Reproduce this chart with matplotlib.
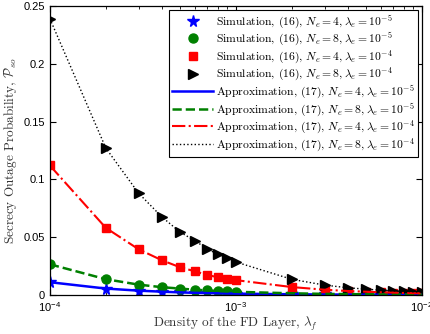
import numpy as np
import matplotlib
matplotlib.use("Agg")
import matplotlib.pyplot as plt

plt.rcParams['mathtext.fontset'] = 'cm'
plt.rcParams['font.family'] = ['Liberation Sans', 'DejaVu Sans']

# density of the FD layer
lam_f = [1e-4, 2e-4, 3e-4, 4e-4, 5e-4, 6e-4, 7e-4, 8e-4, 9e-4, 1e-3,
         2e-3, 3e-3, 4e-3, 5e-3, 6e-3, 7e-3, 8e-3, 9e-3, 1e-2]

# secrecy outage probability per setting
p_n4_e5 = [0.0110, 0.0055, 0.0037, 0.0028, 0.0022, 0.0018, 0.0016, 0.0014, 0.0012, 0.0011,
           0.00055, 0.00037, 0.00028, 0.00022, 0.00018, 0.00016, 0.00014, 0.00012, 0.00011]
p_n8_e5 = [0.0265, 0.0136, 0.0089, 0.0067, 0.0055, 0.0045, 0.0039, 0.0034, 0.0030, 0.0027,
           0.0014, 0.0009, 0.0007, 0.00055, 0.00045, 0.0004, 0.00035, 0.0003, 0.00028]
p_n4_e4 = [0.112, 0.058, 0.0395, 0.030, 0.024, 0.0205, 0.0173, 0.0153, 0.0141, 0.0128,
           0.0068, 0.0045, 0.0034, 0.0028, 0.0023, 0.0020, 0.0017, 0.0015, 0.0014]
p_n8_e4 = [0.239, 0.127, 0.088, 0.0675, 0.0545, 0.047, 0.040, 0.035, 0.032, 0.0285,
           0.0135, 0.0085, 0.0062, 0.0050, 0.0041, 0.0035, 0.0031, 0.0027, 0.0025]

sim_labels = [r'Simulation, (16), $N_e=4, \lambda_e=10^{-5}$',
              r'Simulation, (16), $N_e=8, \lambda_e=10^{-5}$',
              r'Simulation, (16), $N_e=4, \lambda_e=10^{-4}$',
              r'Simulation, (16), $N_e=8, \lambda_e=10^{-4}$']
app_labels = [r'Approximation, (17), $N_e=4, \lambda_e=10^{-5}$',
              r'Approximation, (17), $N_e=8, \lambda_e=10^{-5}$',
              r'Approximation, (17), $N_e=4, \lambda_e=10^{-4}$',
              r'Approximation, (17), $N_e=8, \lambda_e=10^{-4}$']

curves = [p_n4_e5, p_n8_e5, p_n4_e4, p_n8_e4]
colors = ['#0000ff', '#008000', '#ff0000', '#000000']
markers = ['*', 'o', 's', '>']
msizes = [8.5, 6.5, 6, 7.5]
styles = ['-', '--', '-.', ':']
widths = [1.8, 1.8, 1.5, 1.0]

fig = plt.figure(figsize=(4.3, 3.34), dpi=100)
ax = fig.add_axes([0.116, 0.117, 0.865, 0.865])

for y, c, m, ms, lab in zip(curves, colors, markers, msizes, sim_labels):
    ax.plot(lam_f, y, linestyle='none', marker=m, color=c, markersize=ms, label=lab)
for y, c, ls, lw, lab in zip(curves, colors, styles, widths, app_labels):
    ax.plot(lam_f, y, linestyle=ls, color=c, linewidth=lw, label=lab)

ax.set_xscale('log')
ax.set_xlim(1e-4, 1e-2)
ax.set_ylim(0, 0.25)
ax.set_yticks([0, 0.05, 0.1, 0.15, 0.2, 0.25])
ax.set_yticklabels(['0', '0.05', '0.1', '0.15', '0.2', '0.25'])
ax.tick_params(which='both', direction='in', top=True, right=True, labelsize=8)
ax.tick_params(which='major', length=4)
ax.tick_params(which='minor', length=2.5)
for s in ax.spines.values():
    s.set_linewidth(0.9)

ax.set_xlabel(r'Density of the FD Layer, $\lambda_f$', family='cmr10',
              fontsize=9.5, color='#333333', labelpad=1)
ax.set_ylabel(r'Secrecy Outage Probability, $\mathcal{P}_{so}$', family='cmr10',
              fontsize=9.5, color='#333333', labelpad=3)

leg = ax.legend(loc='upper right', prop={'family': 'cmr10', 'size': 8.4},
                frameon=True, fancybox=False,
                edgecolor='black', framealpha=1, borderpad=0.3, labelspacing=0.02,
                handlelength=3.5, handletextpad=0.25, borderaxespad=0.3)
leg.get_frame().set_linewidth(0.8)

fig.savefig('out.png', dpi=100)
